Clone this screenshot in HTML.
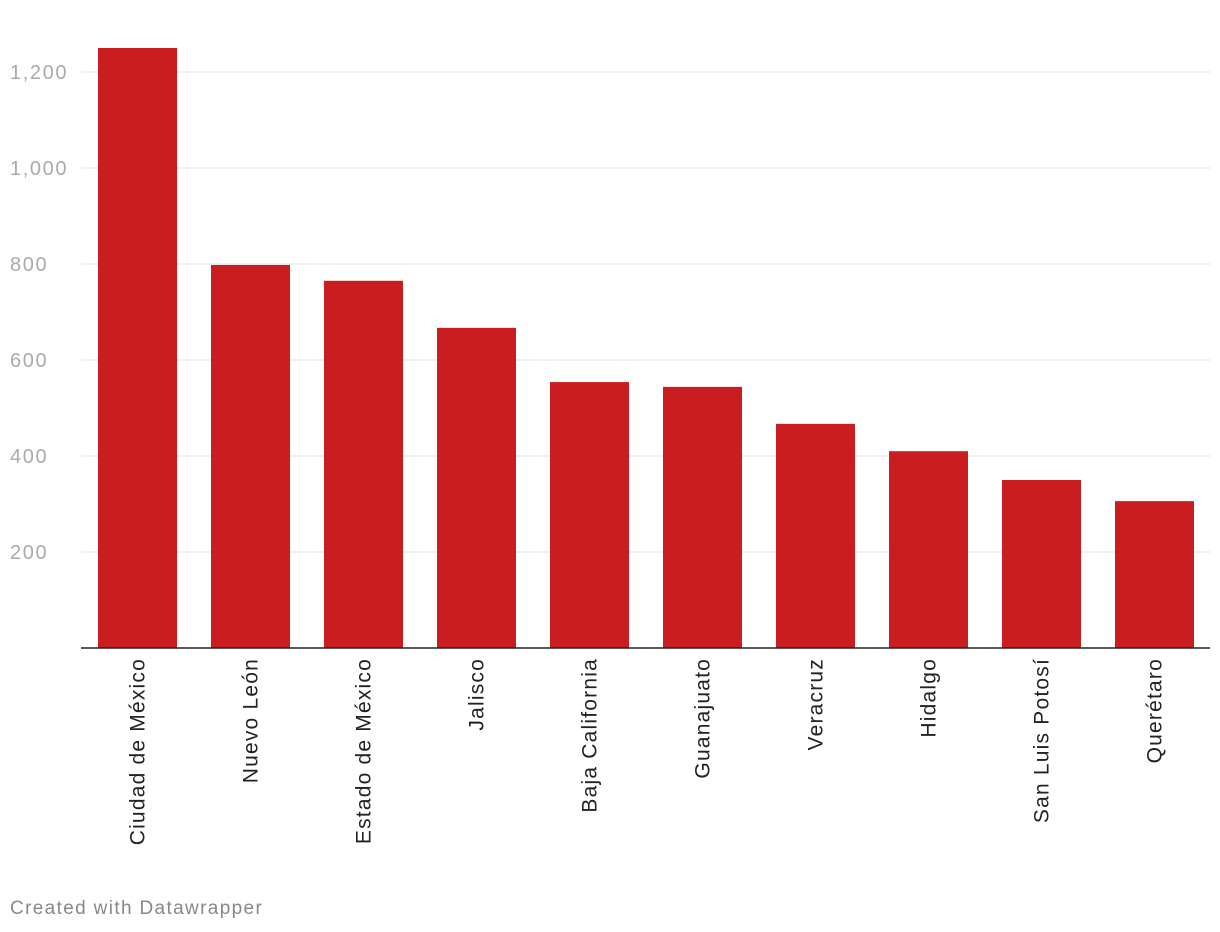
<!DOCTYPE html>
<html><head><meta charset="utf-8">
<style>
body{margin:0;background:#fff;font-family:"Liberation Sans",sans-serif;}
svg{display:block}
</style></head>
<body>
<svg id="chart" width="1220" height="932" xmlns="http://www.w3.org/2000/svg">
<g id="grid"></g>
<g id="bars"></g>
<g id="ylabels"></g>
<g id="xlabels"></g>
<line x1="81" x2="1210" y1="648" y2="648" stroke="#222" stroke-width="1.5"/>
<text x="10" y="914" font-size="19" letter-spacing="1.35" fill="#888">Created with Datawrapper</text>
</svg>
<script>
const categories=["Ciudad de México","Nuevo León","Estado de México","Jalisco","Baja California","Guanajuato","Veracruz","Hidalgo","San Luis Potosí","Querétaro"];
const values=[1250,798,765,667,554,544,467,410,350,306];
const ticks=[200,400,600,800,1000,1200];
const tickLabels=["200","400","600","800","1,000","1,200"];
const NS="http://www.w3.org/2000/svg";
const x0=81,band=113,bw=79,y0=648,k=0.48;
const y=v=>y0-v*k;
const xb=i=>x0+i*band+(band-bw)/2;
function mk(t,a,p){const e=document.createElementNS(NS,t);for(const n in a)e.setAttribute(n,a[n]);p.appendChild(e);return e;}
const g=document.getElementById('grid'),yl=document.getElementById('ylabels'),b=document.getElementById('bars'),xl=document.getElementById('xlabels');
ticks.forEach((t,i)=>{
  const l=mk('line',{x1:81,x2:1210,y1:y(t),y2:y(t),stroke:'#e0e0e0','stroke-width':1},g);
  
  
  const tx=mk('text',{x:10,y:y(t)+7,'font-size':20,'letter-spacing':1.6,fill:'#aaa'},yl);
  tx.textContent=tickLabels[i];
  
  
});
values.forEach((v,i)=>{
  const r=mk('rect',{x:xb(i),y:y(v),width:bw,height:v*k,fill:'#c91d1f'},b);
  
  
  const cx=xb(i)+bw/2+7;
  const t=mk('text',{x:cx,y:658,'font-size':21,'letter-spacing':1.2,fill:'#222','text-anchor':'end',transform:`rotate(-90 ${cx} 658)`},xl);
  t.textContent=categories[i];
  
  
});
</script>
</body></html>
